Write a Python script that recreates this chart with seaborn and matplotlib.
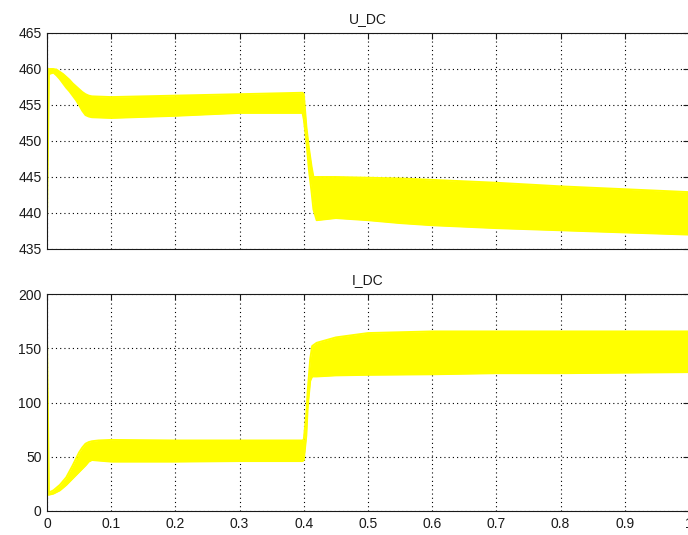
import matplotlib
matplotlib.use("Agg")
import matplotlib.pyplot as plt
import pandas as pd
import seaborn as sns

# DC-link voltage: envelope (max / min of the switching ripple) over time [s]
time_u = [0.000, 0.003, 0.010, 0.015, 0.020, 0.025, 0.030, 0.035, 0.040, 0.045,
          0.050, 0.055, 0.060, 0.065, 0.070, 0.100, 0.200, 0.300, 0.398, 0.400,
          0.404, 0.408, 0.412, 0.415, 0.420, 0.450, 0.500, 0.550, 0.600, 0.700,
          0.800, 0.900, 1.000]
udc_upper = [460.0, 460.0, 460.0, 459.9, 459.6, 459.3, 458.9, 458.5, 458.0, 457.6,
             457.2, 456.8, 456.5, 456.3, 456.2, 456.1, 456.3, 456.5, 456.7, 456.5,
             452.0, 449.0, 446.5, 445.0, 445.0, 445.0, 444.9, 444.8, 444.6, 444.2,
             443.7, 443.3, 442.9]
udc_lower = [439.0, 459.3, 459.5, 459.1, 458.6, 458.0, 457.4, 456.9, 456.3, 455.7,
             455.0, 454.2, 453.6, 453.4, 453.3, 453.2, 453.5, 453.9, 453.9, 453.0,
             450.0, 446.0, 443.0, 440.5, 439.0, 439.3, 439.0, 438.6, 438.3, 437.9,
             437.6, 437.3, 437.0]

# DC-link current: envelope over time [s]
time_i = [0.000, 0.003, 0.010, 0.020, 0.030, 0.040, 0.050, 0.055, 0.060, 0.065,
          0.070, 0.080, 0.100, 0.200, 0.300, 0.398, 0.400, 0.404, 0.406, 0.410,
          0.413, 0.420, 0.450, 0.500, 0.600, 0.700, 0.800, 0.900, 1.000]
idc_upper = [160.0, 17.0, 19.0, 24.0, 31.0, 42.0, 54.0, 58.5, 62.0, 63.5,
             64.3, 65.0, 65.5, 65.0, 65.0, 65.0, 66.0, 90.0, 110.0, 140.0,
             152.0, 155.0, 160.0, 164.0, 165.5, 165.5, 165.5, 165.5, 165.5]
idc_lower = [15.0, 15.0, 16.0, 19.0, 24.0, 30.0, 36.0, 39.0, 42.0, 45.5,
             47.0, 46.5, 45.5, 45.5, 46.0, 46.0, 47.0, 70.0, 95.0, 120.0,
             124.0, 124.0, 125.0, 125.5, 126.0, 127.0, 127.0, 127.5, 128.0]

x_ticks = [0.0, 0.1, 0.2, 0.3, 0.4, 0.5, 0.6, 0.7, 0.8, 0.9, 1.0]
x_tick_labels = ["0", "0.1", "0.2", "0.3", "0.4", "0.5", "0.6", "0.7", "0.8", "0.9", "1"]
u_ticks = [435, 440, 445, 450, 455, 460, 465]
i_ticks = [0, 50, 100, 150, 200]

TRACE = "#ffff00"
INK = "#1a1a1a"

sns.set_theme(style="white")
plt.rcParams["font.family"] = ["Liberation Sans", "DejaVu Sans"]
plt.rcParams["font.size"] = 10

fig = plt.figure(figsize=(6.88, 5.35), dpi=100)
fig.patch.set_facecolor("white")
ax_u = fig.add_axes([47 / 688, 1 - 249 / 535, 642 / 688, 216 / 535])
ax_i = fig.add_axes([47 / 688, 1 - 511 / 535, 642 / 688, 217 / 535])


def draw_trace(ax, t, upper, lower):
    df = pd.DataFrame({"t": t, "upper": upper, "lower": lower})
    ax.fill_between(df["t"], df["lower"], df["upper"], color=TRACE, lw=0, zorder=3)
    for col in ("upper", "lower"):
        sns.lineplot(data=df, x="t", y=col, ax=ax, color=TRACE, lw=1.4,
                     sort=False, estimator=None, zorder=3)


def style_axes(ax, yticks, title, show_xlabels):
    ax.set_xlim(0, 1)
    ax.set_ylim(yticks[0], yticks[-1])
    ax.set_xticks(x_ticks)
    ax.set_yticks(yticks)
    ax.set_yticklabels([str(v) for v in yticks])
    if show_xlabels:
        ax.set_xticklabels(x_tick_labels)
    else:
        ax.set_xticklabels([])
    ax.set_xlabel("")
    ax.set_ylabel("")
    ax.tick_params(direction="in", length=4, width=0.8, color=INK,
                   top=True, right=True, labelsize=10, labelcolor=INK, pad=4)
    ax.grid(True, color="black", linestyle=(0, (1, 2.8)), linewidth=0.8, zorder=1)
    ax.set_axisbelow(True)
    for s in ax.spines.values():
        s.set_color(INK)
        s.set_linewidth(0.8)
        s.set_visible(True)
        s.set_zorder(5)
    ax.set_title(title, fontsize=10, color=INK, pad=7)


draw_trace(ax_u, time_u, udc_upper, udc_lower)
draw_trace(ax_i, time_i, idc_upper, idc_lower)
style_axes(ax_u, u_ticks, "U_DC", False)
style_axes(ax_i, i_ticks, "I_DC", True)

fig.savefig("out.png", dpi=100, facecolor="white")
